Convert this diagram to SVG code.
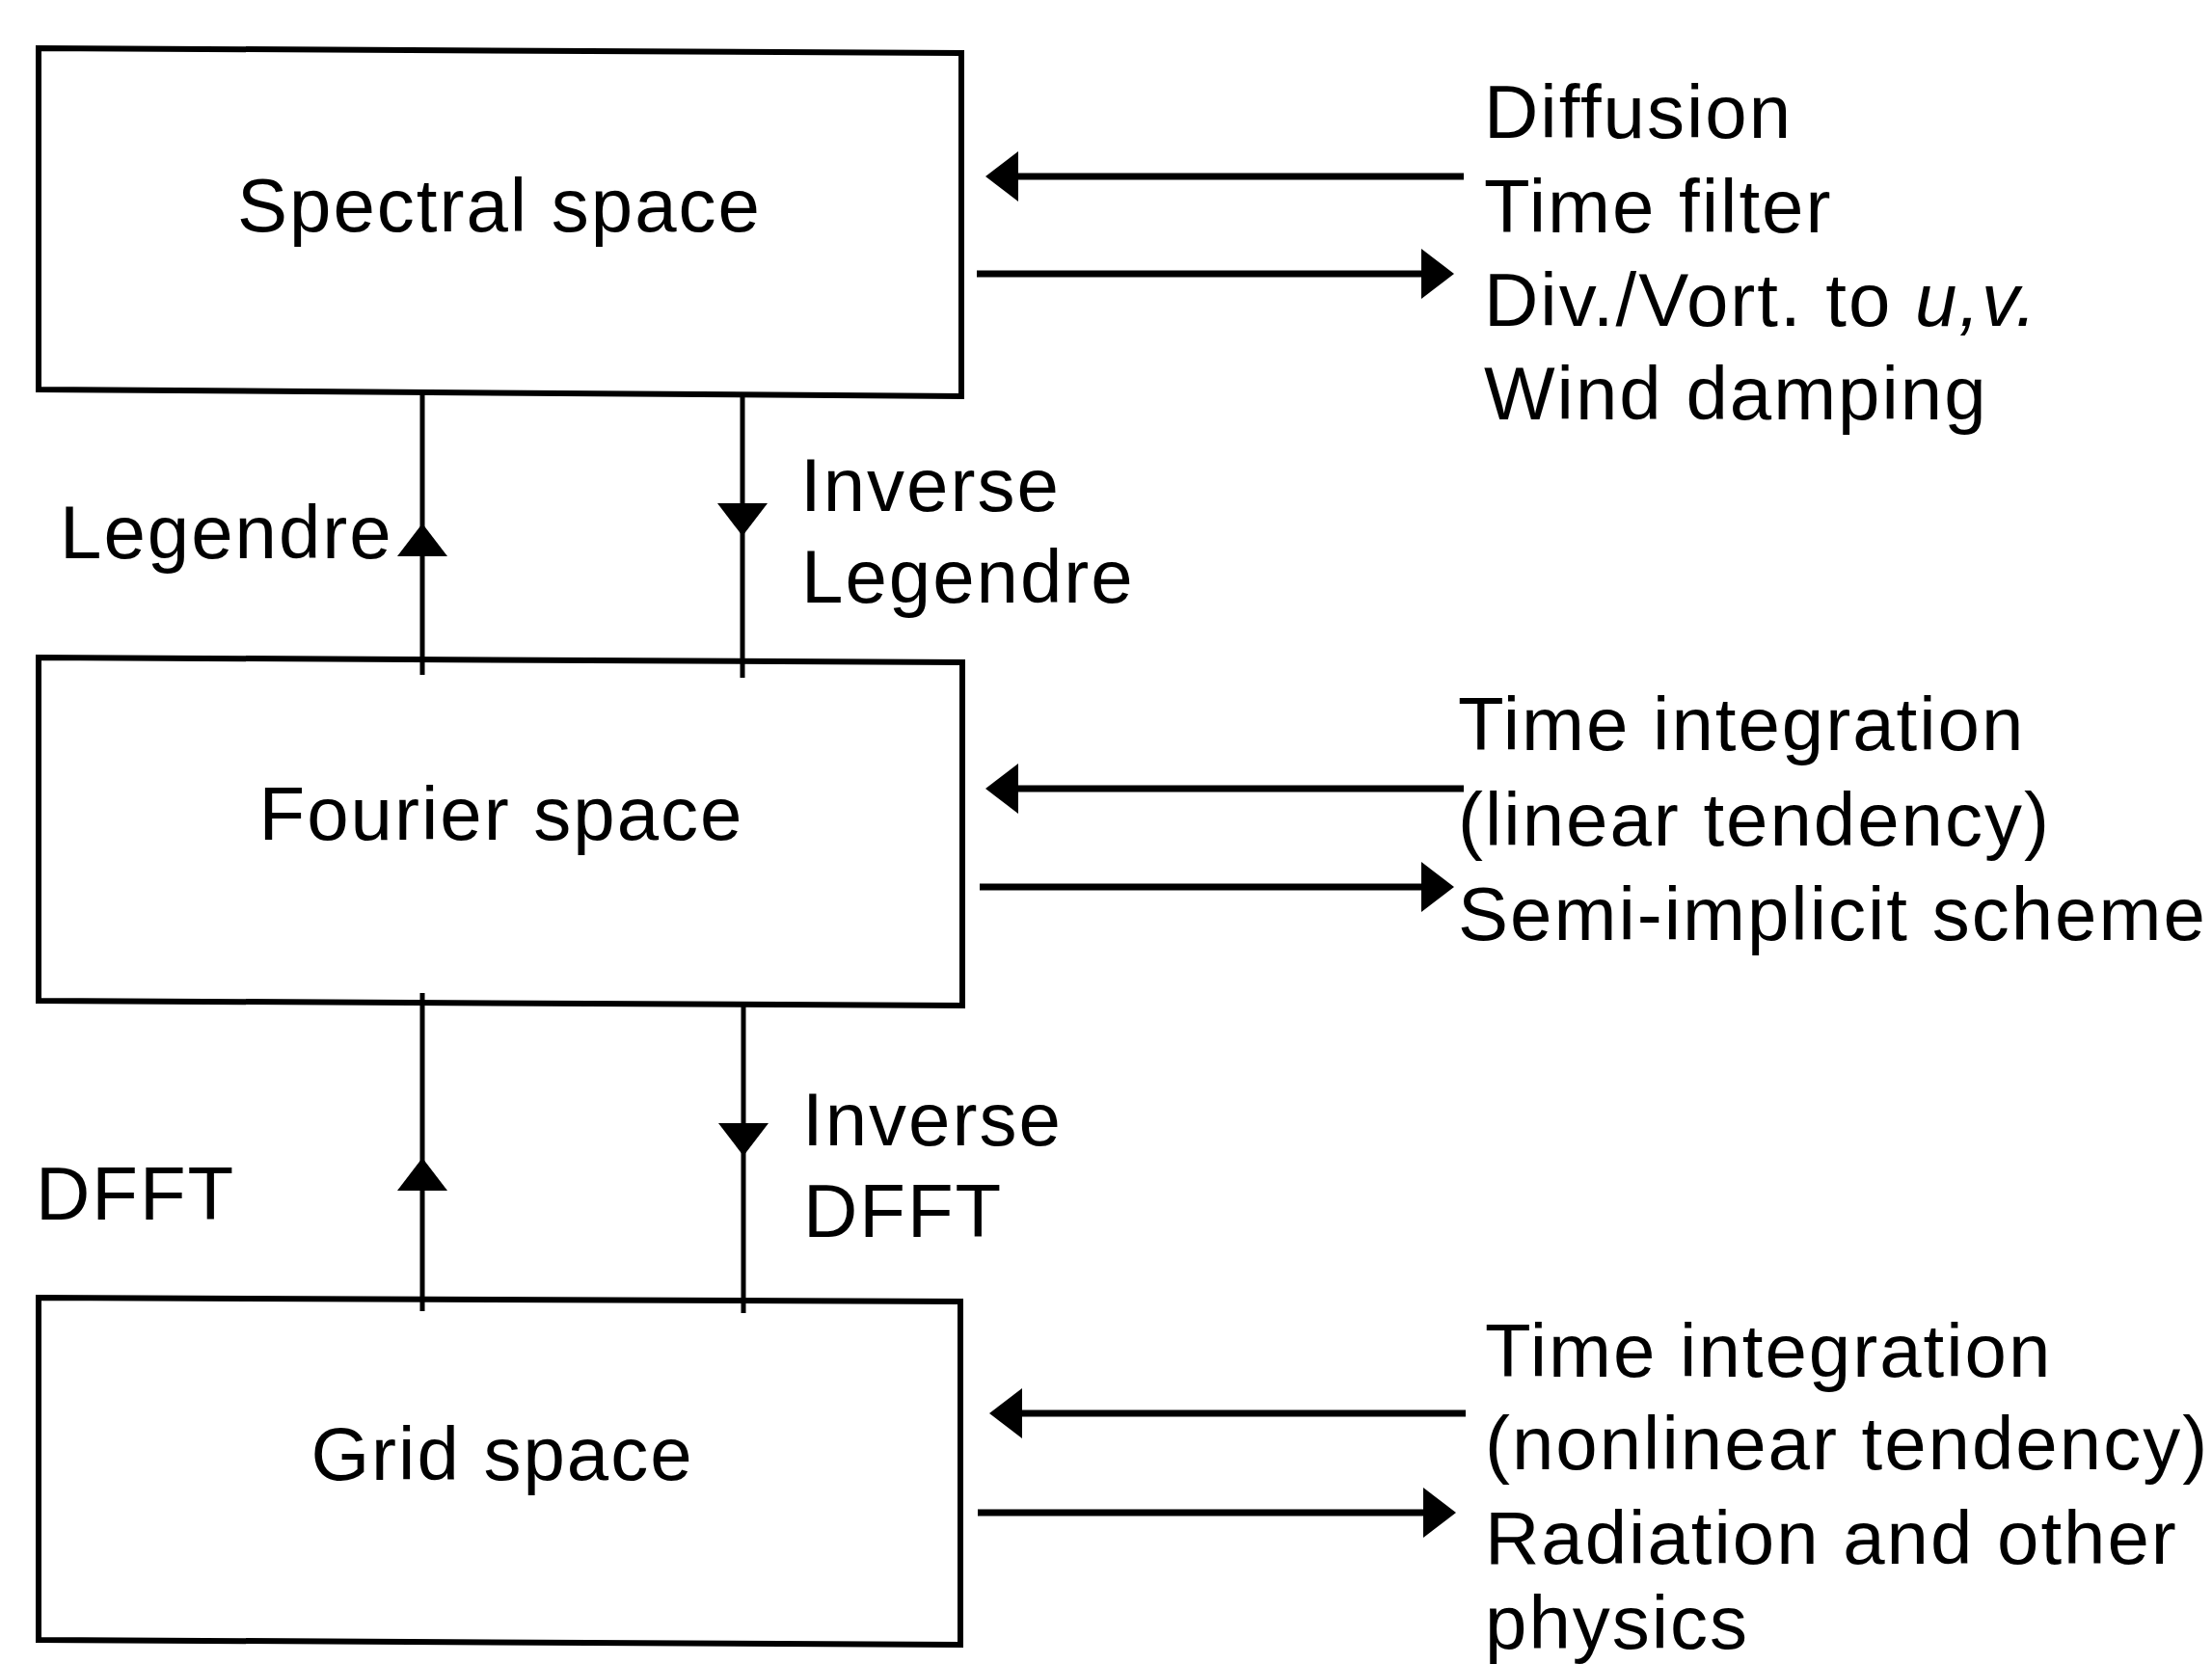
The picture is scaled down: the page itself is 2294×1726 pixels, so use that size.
<svg xmlns="http://www.w3.org/2000/svg" xmlns:xlink="http://www.w3.org/1999/xlink" width="2294" height="1726" viewBox="0 0 2294 1726">
  <style>
    .box { fill: #ffffff; stroke: #000000; stroke-width: 6; stroke-linejoin: miter; }
    .t { font-family: "Liberation Sans", Arial, Helvetica, sans-serif; font-size: 78px; letter-spacing: 2px; fill: #000000; }
    .mid { text-anchor: middle; }
    .vline { stroke: #000000; stroke-width: 5; fill: none; }
    .hline { stroke: #000000; stroke-width: 7; fill: none; }
    .head { fill: #000000; }
  </style>
  <defs>
    <path id="ah" class="head" d="M0,0 L-34,-26 L-34,26 Z"/>
  </defs>
  <rect x="0" y="0" width="2294" height="1726" fill="#ffffff"/>

  <g id="spectral">
    <path class="box" d="M40,50 L997,55 L997,411 L40,404 Z"/>
    <text class="t mid" x="518" y="240">Spectral space</text>
  </g>

  <g id="fourier">
    <path class="box" d="M40,682 L998,687 L998,1043 L40,1038 Z"/>
    <text class="t mid" x="520" y="871">Fourier space</text>
  </g>

  <g id="grid">
    <path class="box" d="M40,1346 L996,1350 L996,1706 L40,1701 Z"/>
    <text class="t mid" x="521" y="1535">Grid space</text>
  </g>

  <g id="connectors">
    <!-- vertical transforms -->
    <line class="vline" x1="438" y1="406" x2="438" y2="700"/>
    <use xlink:href="#ah" href="#ah" transform="translate(438,543) rotate(-90)"/>
    <line class="vline" x1="770" y1="409" x2="770" y2="703"/>
    <use xlink:href="#ah" href="#ah" transform="translate(770,556) rotate(90)"/>
    <line class="vline" x1="438" y1="1030" x2="438" y2="1360"/>
    <use xlink:href="#ah" href="#ah" transform="translate(438,1201) rotate(-90)"/>
    <line class="vline" x1="771" y1="1042" x2="771" y2="1362"/>
    <use xlink:href="#ah" href="#ah" transform="translate(771,1199) rotate(90)"/>

    <!-- horizontal arrows -->
    <line class="hline" x1="1518" y1="183" x2="1050" y2="183"/>
    <use xlink:href="#ah" href="#ah" transform="translate(1022,183) rotate(180)"/>
    <line class="hline" x1="1013" y1="284" x2="1480" y2="284"/>
    <use xlink:href="#ah" href="#ah" transform="translate(1508,284)"/>

    <line class="hline" x1="1518" y1="818" x2="1050" y2="818"/>
    <use xlink:href="#ah" href="#ah" transform="translate(1022,818) rotate(180)"/>
    <line class="hline" x1="1016" y1="920" x2="1480" y2="920"/>
    <use xlink:href="#ah" href="#ah" transform="translate(1508,920)"/>

    <line class="hline" x1="1520" y1="1466" x2="1054" y2="1466"/>
    <use xlink:href="#ah" href="#ah" transform="translate(1026,1466) rotate(180)"/>
    <line class="hline" x1="1014" y1="1569" x2="1482" y2="1569"/>
    <use xlink:href="#ah" href="#ah" transform="translate(1510,1569)"/>
  </g>

  <g id="connector-labels">
    <text class="t" x="62" y="579">Legendre</text>
    <text class="t" x="830" y="530">Inverse</text>
    <text class="t" x="831" y="625">Legendre</text>
    <text class="t" x="37" y="1265">DFFT</text>
    <text class="t" x="832" y="1188">Inverse</text>
    <text class="t" x="833" y="1283">DFFT</text>
  </g>

  <g id="spectral-ops">
    <text class="t" x="1539" y="143">Diffusion</text>
    <text class="t" x="1539" y="241">Time filter</text>
    <text class="t" x="1539" y="338">Div./Vort. to <tspan font-style="italic">u,v.</tspan></text>
    <text class="t" x="1539" y="435">Wind damping</text>
  </g>

  <g id="fourier-ops">
    <text class="t" x="1512" y="778">Time integration</text>
    <text class="t" x="1512" y="877">(linear tendency)</text>
    <text class="t" x="1512" y="975">Semi-implicit scheme</text>
  </g>

  <g id="grid-ops">
    <text class="t" x="1540" y="1428">Time integration</text>
    <text class="t" x="1540" y="1524">(nonlinear tendency)</text>
    <text class="t" x="1540" y="1622">Radiation and other</text>
    <text class="t" x="1540" y="1710">physics</text>
  </g>
</svg>
